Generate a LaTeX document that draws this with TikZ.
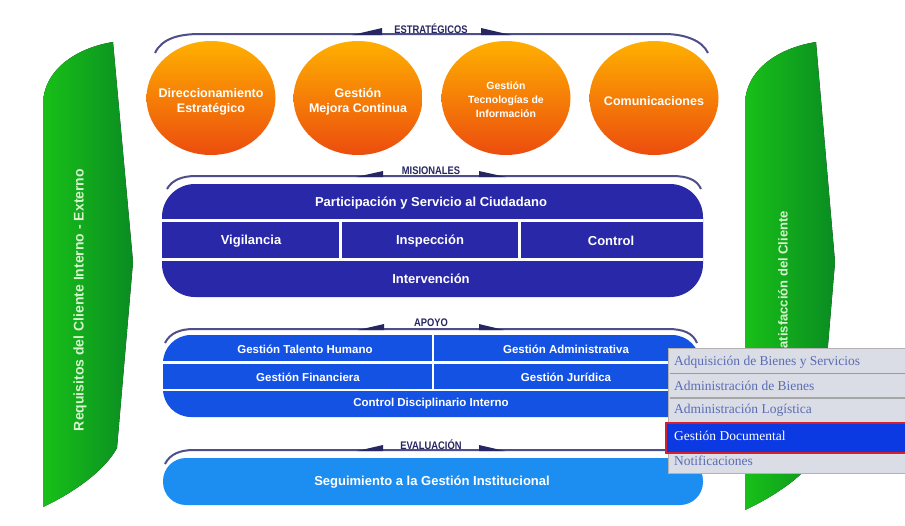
\documentclass[tikz,border=0pt]{standalone}
\usepackage{fontspec}
\setmainfont{Liberation Sans}
\newfontfamily\menufont{Liberation Serif}
\newfontfamily\labfont[FakeStretch=0.85]{Liberation Sans}
\usetikzlibrary{shapes.geometric}
\definecolor{mis}{RGB}{40,40,168}
\definecolor{apo}{RGB}{20,82,228}
\definecolor{eva}{RGB}{28,142,242}
\definecolor{brk}{RGB}{78,78,136}
\definecolor{wedgec}{RGB}{38,38,98}
\definecolor{orgtop}{RGB}{255,176,0}
\definecolor{orgbot}{RGB}{236,76,14}
\definecolor{grnL}{RGB}{24,192,24}
\definecolor{grnR}{RGB}{10,140,34}
\definecolor{menubg}{RGB}{218,221,230}
\definecolor{menutx}{RGB}{90,108,180}
\definecolor{menuln}{RGB}{140,152,200}
\definecolor{selbl}{RGB}{12,58,226}
\definecolor{selrd}{RGB}{210,32,46}
\definecolor{grntx}{RGB}{214,244,206}
\begin{document}
\begin{tikzpicture}[x=1pt,y=-1pt,
  circ/.style={ellipse, minimum width=129pt, minimum height=114pt, inner sep=0pt,
    top color=orgtop, bottom color=orgbot, draw=none},
  ctext/.style={text=white, align=center, inner sep=0pt, font=\bfseries\fontsize{12.5}{15}\selectfont},
  mtext/.style={text=white, inner sep=0pt, font=\bfseries\fontsize{13}{15}\selectfont},
  atext/.style={text=white, inner sep=0pt, font=\bfseries\fontsize{11.5}{14}\selectfont},
  lbl/.style={text=wedgec, inner sep=0pt, font=\labfont\bfseries\fontsize{11}{12}\selectfont},
  brack/.style={draw=brk, line width=2pt},
  wedgefill/.style={fill=wedgec},
  sep/.style={draw=white, line width=3pt},
  gtext/.style={text=grntx, inner sep=0pt, rotate=90, font=\bfseries\fontsize{14}{16}\selectfont},
  itext/.style={text=menutx, anchor=west, inner sep=0pt, font=\menufont\fontsize{13.5}{15}\selectfont},
  garrow/.style={left color=grnL, right color=grnR}
]
\useasboundingbox[fill=white] (0,0) rectangle (905,525);

% green arrows
\fill[garrow] (43,507) -- (43,105) .. controls (43,70) and (76,48) .. (113,42)
  -- (133,262) -- (117,448) .. controls (105,470) and (75,492) .. (43,507) -- cycle;
\node[gtext] (reqtxt) at (80,300) {Requisitos del Cliente Interno - Externo};
\fill[garrow] (745,510) -- (745,105) .. controls (745,70) and (778,48) .. (816,42)
  -- (835,262) -- (819,452) .. controls (807,474) and (777,495) .. (745,510) -- cycle;
\node[gtext, font=\bfseries\fontsize{13}{15}\selectfont] (sattxt) at (783,284) {Satisfacción del Cliente};

% ESTRATEGICOS bracket
\draw[brack] (155,53) .. controls (162,38) and (180,34) .. (200,34) -- (664,34)
  .. controls (684,34) and (702,40) .. (708,53);
\fill[wedgefill] (352,35) -- (382,35) -- (382,28) -- cycle;
\fill[wedgefill] (481,28) -- (481,35) -- (511,35) -- cycle;
\node[lbl] (lblE) at (431,29) {ESTRATÉGICOS};

% circles
\node[circ] (c1) at (211,98) {};
\node[circ] (c2) at (358,98) {};
\node[circ] (c3) at (506,98) {};
\node[circ] (c4) at (654,98) {};
\node[ctext] (c1t) at (211,102) {Direccionamiento\\Estratégico};
\node[ctext] (c2t) at (358,102) {Gestión\\Mejora Continua};
\node[ctext, font=\bfseries\fontsize{10.5}{14}\selectfont] (c3t) at (506,100) {Gestión\\Tecnologías de\\Información};
\node[ctext] (c4t) at (654,101) {Comunicaciones};

% MISIONALES
\draw[brack] (167,189) .. controls (172,180) and (182,176) .. (196,176) -- (672,176)
  .. controls (688,176) and (697,180) .. (701,189);
\fill[wedgefill] (356,177) -- (383,177) -- (383,171) -- cycle;
\fill[wedgefill] (479,171) -- (479,177) -- (506,177) -- cycle;
\node[lbl] (lblM) at (431,171) {MISIONALES};
\fill[mis, rounded corners=33pt] (162,184) rectangle (703,297);
\draw[sep] (162,220.5) -- (703,220.5);
\draw[sep] (162,259.5) -- (703,259.5);
\draw[sep] (340,220.5) -- (340,259.5);
\draw[sep] (519,220.5) -- (519,259.5);
\node[mtext] (m1) at (431,203) {Participación y Servicio al Ciudadano};
\node[mtext] (m2) at (251,241) {Vigilancia};
\node[mtext] (m3) at (430,241) {Inspección};
\node[mtext] (m4) at (611,241) {Control};
\node[mtext] (m5) at (431,279) {Intervención};

% APOYO
\draw[brack] (165,343) .. controls (170,333) and (180,329) .. (194,329) -- (668,329)
  .. controls (683,329) and (693,333) .. (697,343);
\fill[wedgefill] (358,330) -- (384,330) -- (384,324) -- cycle;
\fill[wedgefill] (479,324) -- (479,330) -- (504,330) -- cycle;
\node[lbl] (lblA) at (431,323) {APOYO};
\fill[apo, rounded corners=28pt] (163,335) rectangle (700,417);
\draw[sep, line width=2.5pt] (163,362.5) -- (700,362.5);
\draw[sep, line width=2.5pt] (163,390) -- (700,390);
\draw[sep, line width=2.5pt] (433,335) -- (433,390);
\node[atext] (a1) at (305,349) {Gestión Talento Humano};
\node[atext] (a2) at (566,349) {Gestión Administrativa};
\node[atext] (a3) at (308,377) {Gestión Financiera};
\node[atext] (a4) at (566,377) {Gestión Jurídica};
\node[atext] (a5) at (431,404) {Control Disciplinario Interno};

% EVALUACION
\draw[brack] (165,464) .. controls (170,454) and (180,450) .. (194,450) -- (674,450)
  .. controls (689,450) and (699,454) .. (703,464);
\fill[wedgefill] (357,451) -- (383,451) -- (383,445) -- cycle;
\fill[wedgefill] (479,445) -- (479,451) -- (505,451) -- cycle;
\node[lbl] (lblV) at (431,445) {EVALUACIÓN};
\fill[eva, rounded corners=23pt] (163,458) rectangle (703,505);
\node[mtext] (e1) at (432,482) {Seguimiento a la Gestión Institucional};

% dropdown menu
\fill[menubg] (668,348) rectangle (905,473);
\draw[gray!60, line width=1pt] (668,348) -- (905,348);
\draw[gray!60, line width=1pt] (668,348) -- (668,473) -- (905,473);
\draw[menuln, line width=1.2pt] (670,373.5) -- (905,373.5);
\draw[gray!70, line width=2pt] (670,398) -- (905,398);
\fill[selbl] (666,424) rectangle (905,452);
\draw[selrd, line width=2.5pt] (666,423) rectangle (910,453);
\node[itext] (i1) at (674,362) {Adquisición de Bienes y Servicios};
\node[itext] (i2) at (674,386) {Administración de Bienes};
\node[itext] (i3) at (674,410) {Administración Logística};
\node[itext, text=white] (i4) at (674,436) {Gestión Documental};
\node[itext] (i5) at (674,461) {Notificaciones};
\end{tikzpicture}
\end{document}
